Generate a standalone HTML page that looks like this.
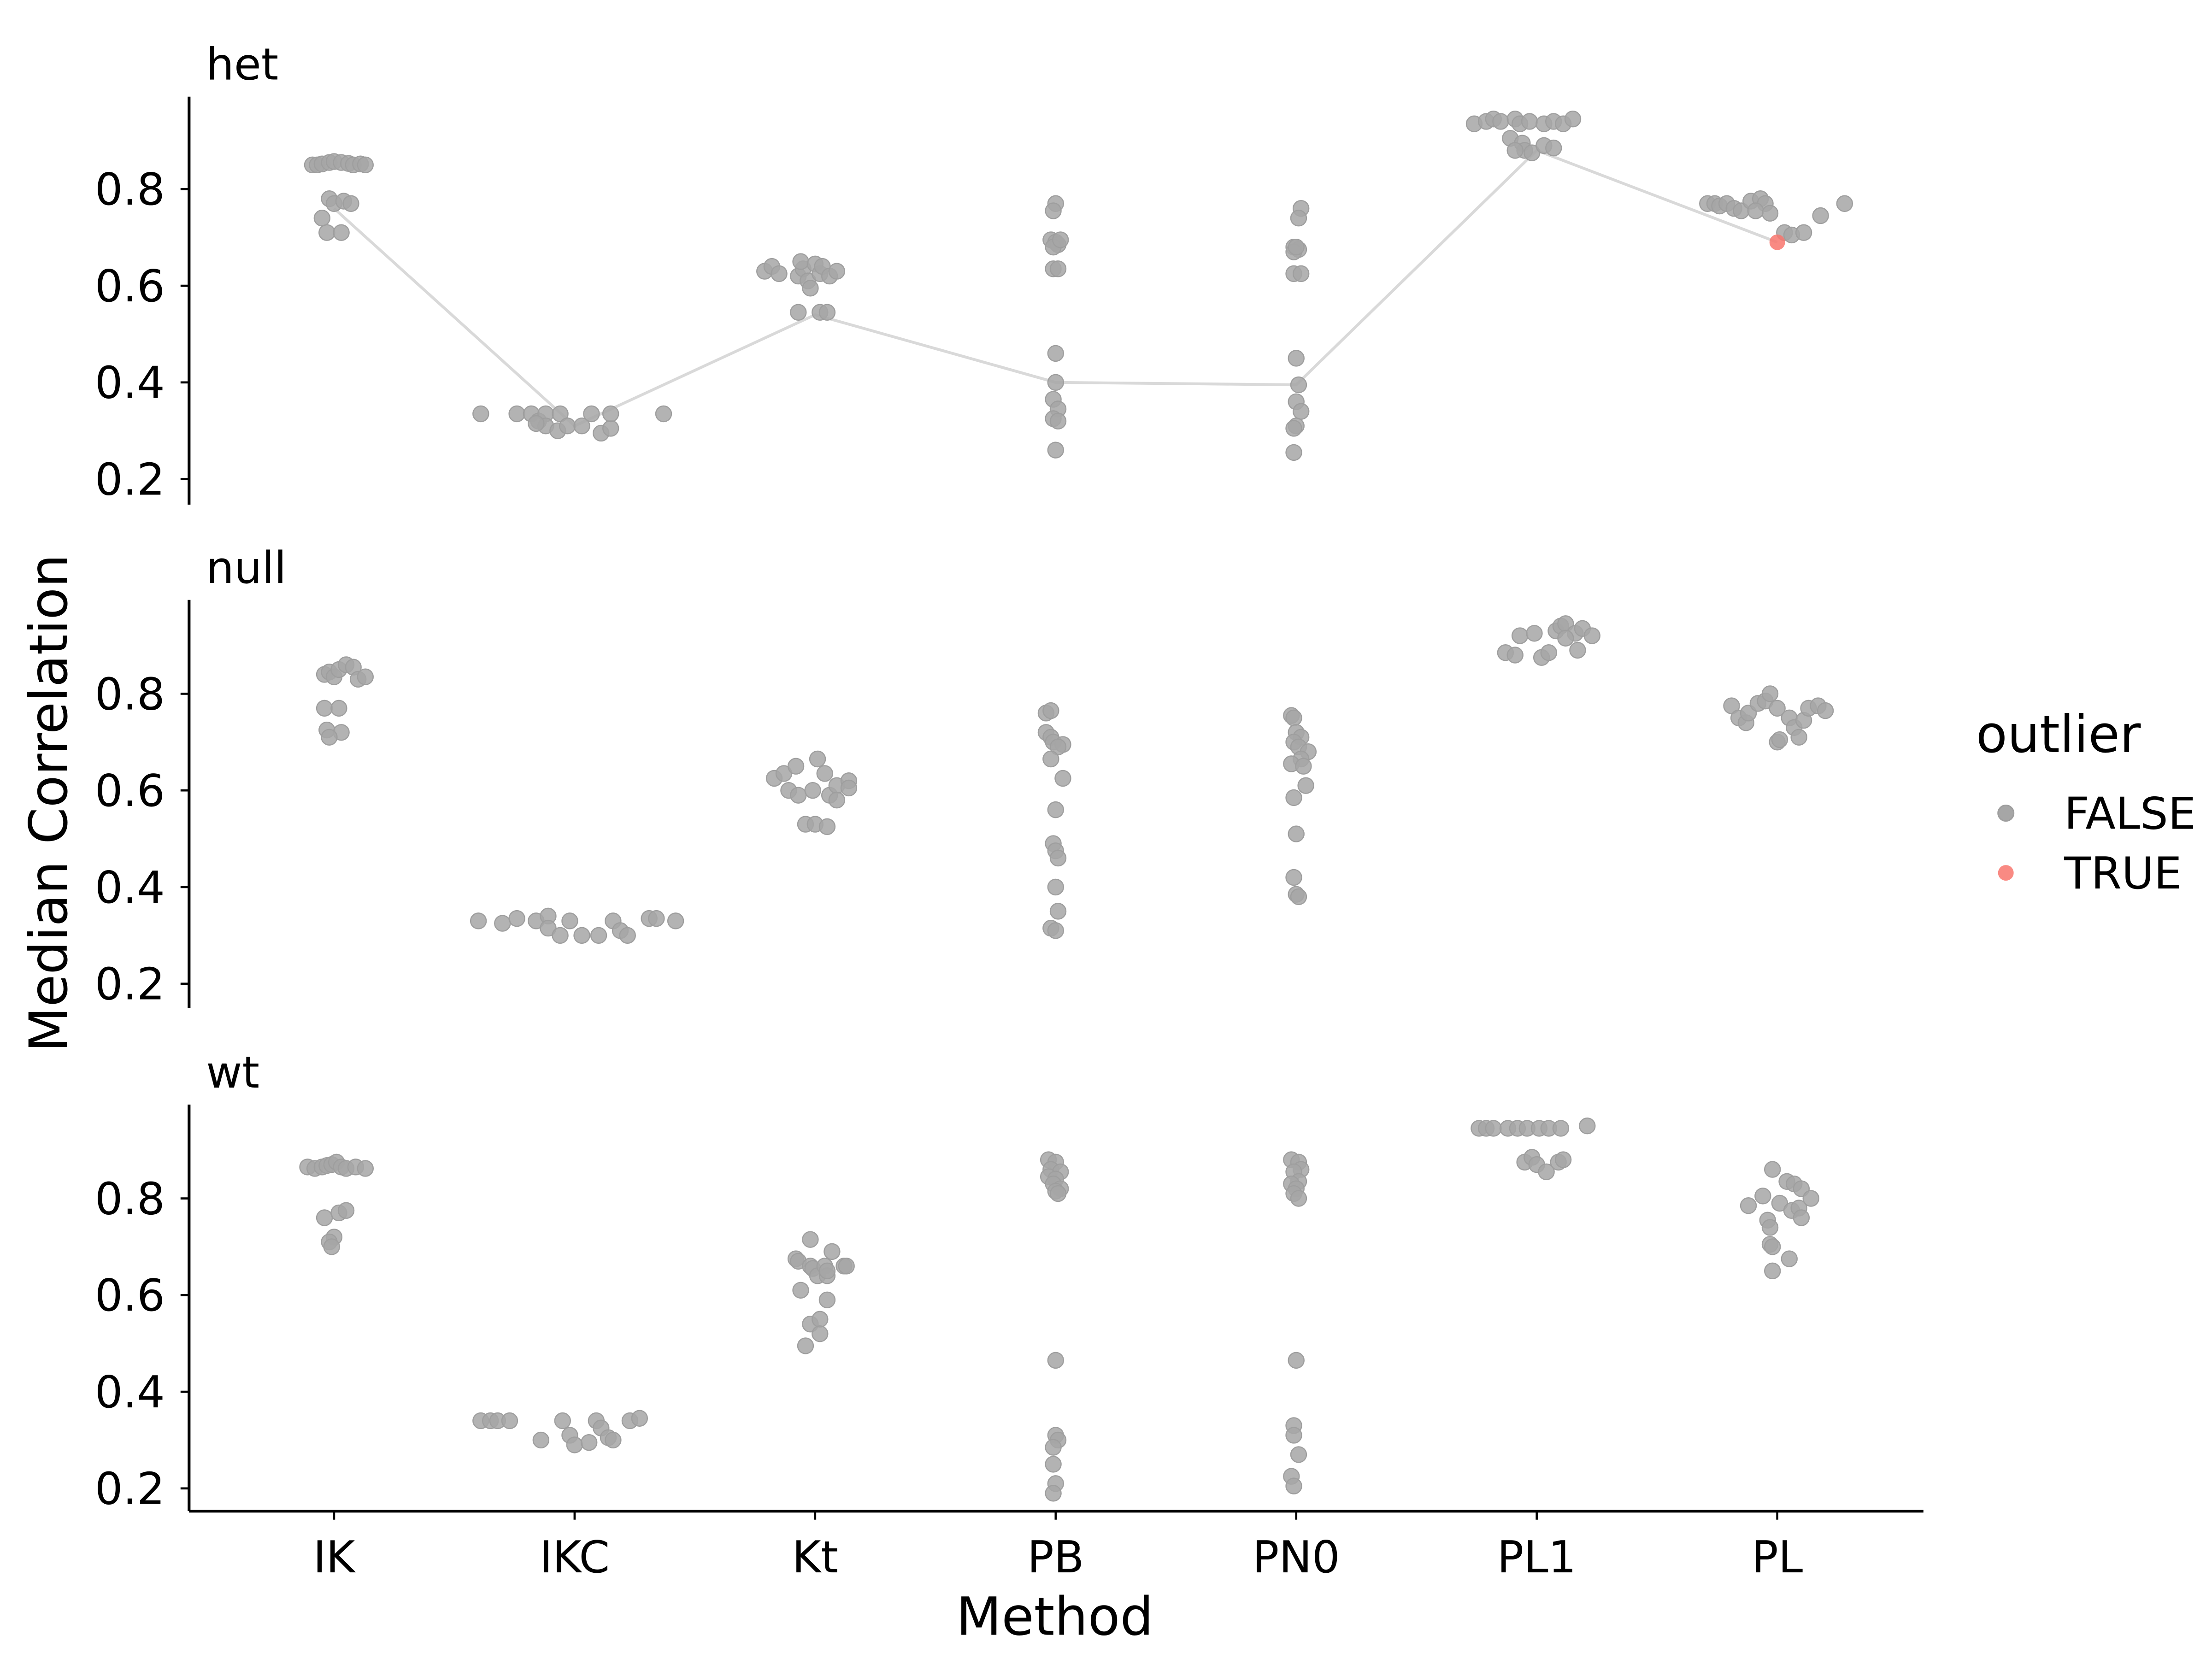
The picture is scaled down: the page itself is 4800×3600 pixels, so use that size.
<!DOCTYPE html>
<html><head><meta charset="utf-8"><style>
html,body{margin:0;padding:0;background:#fff}
svg{display:block}
text{font-family:"DejaVu Sans","Liberation Sans",sans-serif;fill:#000}
</style></head><body>
<svg id="chart" width="4800" height="3600" viewBox="0 0 1556 1167" preserveAspectRatio="none" xmlns="http://www.w3.org/2000/svg">
<g id="plot"></g>
<text x="0" y="0" font-size="37" text-anchor="middle" transform="translate(47,565) rotate(-90)">Median Correlation</text>
<text x="742" y="1150" font-size="37" text-anchor="middle">Method</text>
<g>
<text x="1390" y="529" font-size="36">outlier</text>
<circle cx="1411" cy="572" r="5.5" fill="#a6a6a6" stroke="#9e9e9e"/>
<text x="1452" y="583" font-size="31">FALSE</text>
<circle cx="1411" cy="614" r="5.5" fill="#f8766d" fill-opacity="0.85"/>
<text x="1452" y="625" font-size="31">TRUE</text>
</g>
</svg>
<script>
const categories=["IK","IKC","Kt","PB","PN0","PL1","PL"];
const panels=["het","null","wt"];
const yTicks=[0.2,0.4,0.6,0.8];
const tickLabels=["0.2","0.4","0.6","0.8"];
const hetVals=[
[0.85,0.85,0.852,0.855,0.857,0.855,0.853,0.85,0.852,0.85,0.78,0.77,0.775,0.77,0.74,0.71,0.71],
[0.335,0.335,0.335,0.32,0.335,0.31,0.335,0.30,0.31,0.31,0.335,0.295,0.305,0.335,0.335,0.315],
[0.63,0.64,0.625,0.62,0.635,0.65,0.645,0.61,0.625,0.64,0.62,0.595,0.545,0.545,0.545,0.63],
[0.77,0.755,0.695,0.69,0.685,0.68,0.695,0.635,0.635,0.46,0.40,0.365,0.345,0.325,0.32,0.26],
[0.76,0.74,0.68,0.675,0.67,0.68,0.625,0.625,0.45,0.395,0.36,0.34,0.31,0.305,0.255],
[0.935,0.94,0.945,0.94,0.945,0.935,0.94,0.935,0.94,0.935,0.945,0.905,0.895,0.88,0.875,0.89,0.885,0.88],
[0.77,0.77,0.765,0.77,0.76,0.755,0.775,0.78,0.77,0.755,0.75,0.71,0.705,0.71,0.745,0.77]];
const hetJit=[
[-0.09,-0.07,-0.05,-0.02,0,0.03,0.06,0.08,0.11,0.13,-0.02,0,0.04,0.07,-0.05,-0.03,0.03],
[-0.39,-0.24,-0.18,-0.15,-0.12,-0.12,-0.06,-0.07,-0.03,0.03,0.07,0.11,0.15,0.15,0.37,-0.16],
[-0.21,-0.18,-0.15,-0.07,-0.05,-0.06,0,-0.03,0.02,0.03,0.06,-0.02,-0.07,0.02,0.05,0.09],
[0,-0.01,-0.02,0,0.01,-0.01,0.02,-0.01,0.01,0,0,-0.01,0.01,-0.01,0.01,0],
[0.02,0.01,-0.01,0.01,-0.01,0,-0.01,0.02,0,0.01,0,0.02,0,-0.01,-0.01],
[-0.26,-0.21,-0.18,-0.15,-0.09,-0.07,-0.03,0.03,0.07,0.11,0.15,-0.11,-0.06,-0.05,-0.02,0.03,0.07,-0.09],
[-0.29,-0.26,-0.24,-0.21,-0.18,-0.15,-0.11,-0.07,-0.05,-0.09,-0.03,0.03,0.06,0.11,0.18,0.28]];
const hetOutlierCat=[6];
const hetOutlierVal=[0.69];
const hetOutlierJit=[0];
const hetMedians=[0.76,0.31,0.54,0.40,0.395,0.88,0.69];
const nullVals=[
[0.84,0.845,0.835,0.85,0.86,0.855,0.83,0.835,0.77,0.77,0.725,0.72,0.71],
[0.33,0.325,0.335,0.33,0.34,0.315,0.30,0.33,0.30,0.30,0.33,0.31,0.30,0.335,0.335,0.33],
[0.625,0.635,0.60,0.65,0.59,0.53,0.665,0.60,0.53,0.635,0.59,0.525,0.61,0.62,0.58,0.605],
[0.76,0.765,0.72,0.71,0.70,0.695,0.69,0.665,0.625,0.56,0.49,0.475,0.46,0.40,0.35,0.315,0.31],
[0.755,0.75,0.72,0.71,0.70,0.69,0.68,0.665,0.655,0.65,0.61,0.585,0.51,0.42,0.385,0.38],
[0.885,0.88,0.92,0.925,0.875,0.885,0.93,0.94,0.945,0.925,0.915,0.89,0.935,0.92],
[0.775,0.75,0.74,0.76,0.78,0.785,0.80,0.77,0.70,0.705,0.75,0.73,0.71,0.745,0.77,0.775,0.765]];
const nullJit=[
[-0.04,-0.02,0,0.02,0.05,0.08,0.1,0.13,-0.04,0.02,-0.03,0.03,-0.02],
[-0.4,-0.3,-0.24,-0.16,-0.11,-0.11,-0.06,-0.02,0.03,0.1,0.16,0.19,0.22,0.31,0.34,0.42],
[-0.17,-0.13,-0.11,-0.08,-0.07,-0.04,0.01,-0.01,0,0.04,0.06,0.05,0.09,0.14,0.09,0.14],
[-0.04,-0.02,-0.04,-0.02,-0.01,0.03,0.01,-0.02,0.03,0,-0.01,0,0.01,0,0.01,-0.02,0],
[-0.02,-0.01,0,0.02,-0.01,0.01,0.05,0.02,-0.02,0.03,0.04,-0.01,0,-0.01,0,0.01],
[-0.13,-0.09,-0.07,-0.01,0.02,0.05,0.08,0.1,0.12,0.16,0.12,0.17,0.19,0.23],
[-0.19,-0.16,-0.13,-0.12,-0.08,-0.05,-0.03,0,0,0.01,0.05,0.07,0.09,0.11,0.13,0.17,0.2]];
const wtVals=[
[0.865,0.862,0.865,0.868,0.87,0.875,0.865,0.862,0.865,0.862,0.76,0.77,0.775,0.72,0.71,0.70],
[0.34,0.34,0.34,0.34,0.30,0.34,0.31,0.29,0.295,0.34,0.325,0.305,0.30,0.34,0.345],
[0.675,0.67,0.61,0.495,0.715,0.66,0.54,0.655,0.64,0.55,0.52,0.66,0.64,0.65,0.59,0.69,0.66,0.66],
[0.88,0.875,0.86,0.855,0.845,0.84,0.83,0.82,0.815,0.81,0.465,0.31,0.30,0.285,0.25,0.21,0.19],
[0.88,0.875,0.86,0.855,0.835,0.83,0.82,0.81,0.80,0.465,0.33,0.31,0.27,0.225,0.205],
[0.945,0.945,0.945,0.945,0.945,0.945,0.945,0.945,0.945,0.95,0.875,0.885,0.87,0.855,0.875,0.88],
[0.785,0.805,0.755,0.74,0.705,0.70,0.86,0.65,0.79,0.835,0.675,0.775,0.83,0.78,0.76,0.82,0.80]];
const wtJit=[
[-0.11,-0.08,-0.05,-0.03,-0.01,0.01,0.03,0.05,0.09,0.13,-0.04,0.02,0.05,0,-0.02,-0.01],
[-0.39,-0.35,-0.32,-0.27,-0.14,-0.05,-0.02,0,0.06,0.09,0.11,0.14,0.16,0.23,0.27],
[-0.08,-0.07,-0.06,-0.04,-0.02,-0.02,-0.02,-0.01,0.01,0.02,0.02,0.04,0.05,0.05,0.05,0.07,0.12,0.13],
[-0.03,0,-0.02,0.02,-0.03,0,-0.01,0.02,0,0.01,0,0,0.01,-0.01,-0.01,0,-0.01],
[-0.02,0.01,0.02,-0.01,0.01,-0.02,0,-0.01,0.01,0,-0.01,-0.01,0.01,-0.02,-0.01],
[-0.24,-0.21,-0.18,-0.12,-0.08,-0.04,0.01,0.05,0.1,0.21,-0.05,-0.02,0,0.04,0.09,0.11],
[-0.12,-0.06,-0.04,-0.03,-0.03,-0.02,-0.02,-0.02,0.01,0.04,0.05,0.06,0.07,0.09,0.1,0.1,0.14]];
const panelVals=[hetVals,nullVals,wtVals];
const panelJit=[hetJit,nullJit,wtJit];

const NS="http://www.w3.org/2000/svg";
const plot=document.getElementById('plot');
const axisX0=133, axisX1=1353, catStart=235, catStep=169.2;
const panelY08=[133,488,843], panelTop=[68,422,777], panelBot=[355,709,1063];
function xPos(ci,j){return catStart+ci*catStep+j*catStep;}
function yPos(p,v){return panelY08[p]+(0.8-v)*340;}
function mk(tag,attrs,parent){const e=document.createElementNS(NS,tag);for(const k in attrs)e.setAttribute(k,attrs[k]);(parent||plot).appendChild(e);return e;}

panels.forEach((pn,p)=>{
  const g=mk('g',{});
  
  
  const st=mk('text',{x:145,y:panelTop[p]-12,'font-size':31},g);
  st.textContent=pn;
  
  
  const ax=mk('line',{x1:axisX0,x2:axisX0,y1:panelTop[p],y2:panelBot[p],stroke:'#000','stroke-width':2},g);
  
  
  yTicks.forEach((t,i)=>{
    const y=yPos(p,t);
    const tk=mk('line',{x1:axisX0-6,x2:axisX0,y1:y,y2:y,stroke:'#000','stroke-width':1.5},g);
    
    
    const tl=mk('text',{x:axisX0-17,y:y+11,'font-size':31,'text-anchor':'end'},g);
    tl.textContent=tickLabels[i];
    
    
  });
  if(p===0){
    const pts=hetMedians.map((v,ci)=>xPos(ci,0)+','+yPos(0,v)).join(' ');
    const ln=mk('polyline',{points:pts,fill:'none',stroke:'#d9d9d9','stroke-width':2},g);
    
    
  }
  panelVals[p].forEach((arr,ci)=>{
    arr.forEach((v,k)=>{
      const c=mk('circle',{cx:xPos(ci,panelJit[p][ci][k]),cy:yPos(p,v),r:5.5,fill:'#a6a6a6','fill-opacity':0.85,stroke:'#9e9e9e','stroke-width':0.8},g);
      
      
    });
  });
  if(p===0){
    hetOutlierVal.forEach((v,k)=>{
      const c=mk('circle',{cx:xPos(hetOutlierCat[k],hetOutlierJit[k]),cy:yPos(0,v),r:5.5,fill:'#f8766d','fill-opacity':0.85},g);
      
      
    });
  }
});
const xa=mk('line',{x1:axisX0,x2:axisX1,y1:1063,y2:1063,stroke:'#000','stroke-width':2});


categories.forEach((c,ci)=>{
  const x=xPos(ci,0);
  const tk=mk('line',{x1:x,x2:x,y1:1063,y2:1069,stroke:'#000','stroke-width':1.5});
  
  
  const tl=mk('text',{x:x,y:1106,'font-size':31,'text-anchor':'middle'});
  tl.textContent=c;
  
  
});
</script>
</body></html>
